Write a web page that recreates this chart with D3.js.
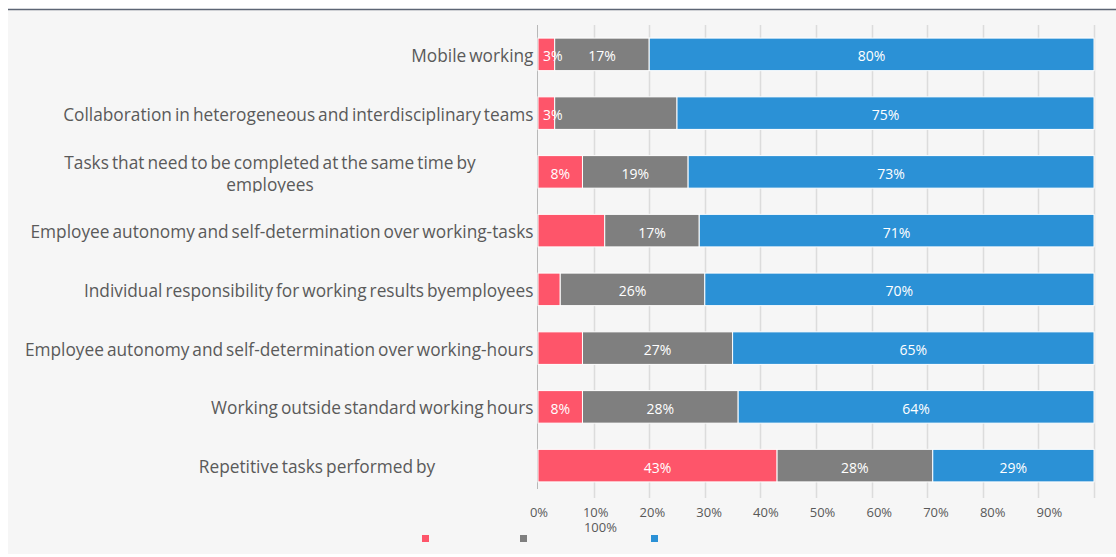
<!DOCTYPE html>
<html><head><meta charset="utf-8">
<script src="https://cdn.jsdelivr.net/npm/d3@7"></script>
<style>
html,body{margin:0;padding:0;background:#fff;}
svg{display:block;}
</style></head>
<body>
<svg id="chart" width="1116" height="557"></svg>
<script>
// ---- data ----
const categoryLines = [
  ["Mobile working"],
  ["Collaboration in heterogeneous and interdisciplinary teams"],
  ["Tasks that need to be completed at the same time by", "employees"],
  ["Employee autonomy and self-determination over working-tasks"],
  ["Individual responsibility for working results byemployees"],
  ["Employee autonomy and self-determination over working-hours"],
  ["Working outside standard working hours"],
  ["Repetitive tasks performed by"]
];
const redValues  = [3, 3, 8, 12, 4, 8, 8, 43];
const grayValues = [17, 22, 19, 17, 26, 27, 28, 28];
const blueValues = [80, 75, 73, 71, 70, 65, 64, 29];
const redLabels  = ["3%", "3%", "8%", null, null, null, "8%", "43%"];
const grayLabels = ["17%", null, "19%", "17%", "26%", "27%", "28%", "28%"];
const blueLabels = ["80%", "75%", "73%", "71%", "70%", "65%", "64%", "29%"];
const tickValues = [0, 10, 20, 30, 40, 50, 60, 70, 80, 90];
const tickLabels = ["0%", "10%", "20%", "30%", "40%", "50%", "60%", "70%", "80%", "90%"];
const wrappedTickLabel = "100%";
const seriesNames = ["", "", ""];

// ---- layout / style ----
const W = 1116, H = 557;
const colors = ["#fe556a", "#7f7f7f", "#2b91d6"];
const plot = {left: 538, right: 1094, top: 25, bottom: 495};
const labelRight = 533.5;
const wrappedCenters = {2: 270, 7: 317};
const legendX = [422, 520, 651], legendY = 535;
const catFont = 17.3;

const svg = d3.select("#chart");
// background
svg.append("rect").attr("x", 8).attr("y", 9).attr("width", W - 8).attr("height", H - 12).attr("fill", "#f6f6f6");
svg.append("line").attr("x1", 8).attr("x2", W).attr("y1", 9.5).attr("y2", 9.5)
  .attr("stroke", "#5d6574").attr("stroke-width", 1.5);

const idx = d3.range(categoryLines.length);
const x = d3.scaleLinear().domain([0, 100]).range([plot.left, plot.right]);
const y = d3.scaleBand().domain(idx).range([plot.top, plot.bottom])
  .paddingInner(0.446).paddingOuter(0.223);
const xLabel = d3.scaleLinear().domain([0, 100])
  .range([x(0) + 1, x(0) + 1 + (x(100) - x(0)) * 1.02]);

// gridlines
svg.append("g").selectAll("line").data(d3.range(10, 101, 10)).join("line")
  .attr("x1", d => Math.round(x(d)) + 0.5).attr("x2", d => Math.round(x(d)) + 0.5)
  .attr("y1", plot.top).attr("y2", plot.bottom + 3)
  .attr("stroke", "#dcdcdc").attr("stroke-width", 1.5);
// axis line
svg.append("line").attr("x1", x(0) - 0.5).attr("x2", x(0) - 0.5)
  .attr("y1", plot.top).attr("y2", plot.bottom - 6)
  .attr("stroke", "#b8b8b8").attr("stroke-width", 1);

// stacked bars
const rows = idx.map(i => ({i, vals: [redValues[i], grayValues[i], blueValues[i]],
  labels: [redLabels[i], grayLabels[i], blueLabels[i]]}));
const stackData = rows.map(r => ({i: r.i, s0: r.vals[0], s1: r.vals[1], s2: r.vals[2]}));
const stacked = d3.stack().keys(["s0", "s1", "s2"])(stackData);

const gRects = svg.append("g");
const gVals = svg.append("g");
stacked.forEach((layer, k) => {
  gRects.append("g").selectAll("rect").data(layer).join("rect")
    .attr("x", d => x(d[0]))
    .attr("y", d => y(d.data.i))
    .attr("width", d => x(d[1]) - x(d[0]))
    .attr("height", y.bandwidth())
    .attr("fill", colors[k])
    .attr("stroke", "#ffffff").attr("stroke-width", 1);
  const t = gVals.append("g").selectAll("text").data(layer.filter(d => rows[d.data.i].labels[k])).join("text")
    .attr("y", d => y(d.data.i) + y.bandwidth() / 2 + 7)
    .attr("text-anchor", "middle")
    .attr("font-family", "Open Sans, sans-serif").attr("font-size", 14)
    .attr("fill", "#ffffff")
    .text(d => rows[d.data.i].labels[k]);
  t.attr("x", function(d) {
    const w = this.getComputedTextLength();
    return Math.max((x(d[0]) + x(d[1])) / 2, x(d[0]) + w / 2 + 5);
  });
});

// category labels
const defs = svg.append("defs");
const gCat = svg.append("g").attr("font-family", "Open Sans, sans-serif")
  .attr("font-size", catFont).attr("fill", "#5a5a5a");
categoryLines.forEach((lines, i) => {
  const c = y(i) + y.bandwidth() / 2;
  const clipId = "clip" + i;
  defs.append("clipPath").attr("id", clipId).append("rect")
    .attr("x", 0).attr("y", c - 40).attr("width", W).attr("height", 60.5);
  const g = gCat.append("g").attr("clip-path", `url(#${clipId})`);
  if (lines.length > 1 || wrappedCenters[i] !== undefined) {
    lines.forEach((t, j) => {
      g.append("text").attr("x", wrappedCenters[i])
        .attr("y", c + (lines.length > 1 ? -3 : 7.5) + j * 22)
        .attr("text-anchor", "middle").attr("word-spacing", -1.5).text(t);
    });
  } else {
    g.append("text").attr("x", labelRight).attr("y", c + 7.5)
      .attr("text-anchor", "end").attr("word-spacing", -1.5).text(lines[0]);
  }
});

// tick labels
const gTicks = svg.append("g").attr("font-family", "Open Sans, sans-serif")
  .attr("font-size", 13).attr("fill", "#595959");
const tickTexts = gTicks.selectAll("text").data(tickValues).join("text")
  .attr("x", d => xLabel(d)).attr("y", 516.5).attr("text-anchor", "middle")
  .text((d, i) => tickLabels[i]);
const bb = tickTexts.nodes()[1].getBBox();
gTicks.append("text").attr("x", bb.x + 1).attr("y", 531.5).text(wrappedTickLabel);

// legend (empty names)
const gLeg = svg.append("g");
seriesNames.forEach((n, k) => {
  gLeg.append("rect").attr("x", legendX[k]).attr("y", legendY).attr("width", 7).attr("height", 7)
    .attr("fill", colors[k]);
  gLeg.append("text").attr("x", legendX[k] + 11).attr("y", legendY + 7)
    .attr("font-family", "Open Sans, sans-serif").attr("font-size", 12).attr("fill", "#595959").text(n);
});
</script>
</body></html>
